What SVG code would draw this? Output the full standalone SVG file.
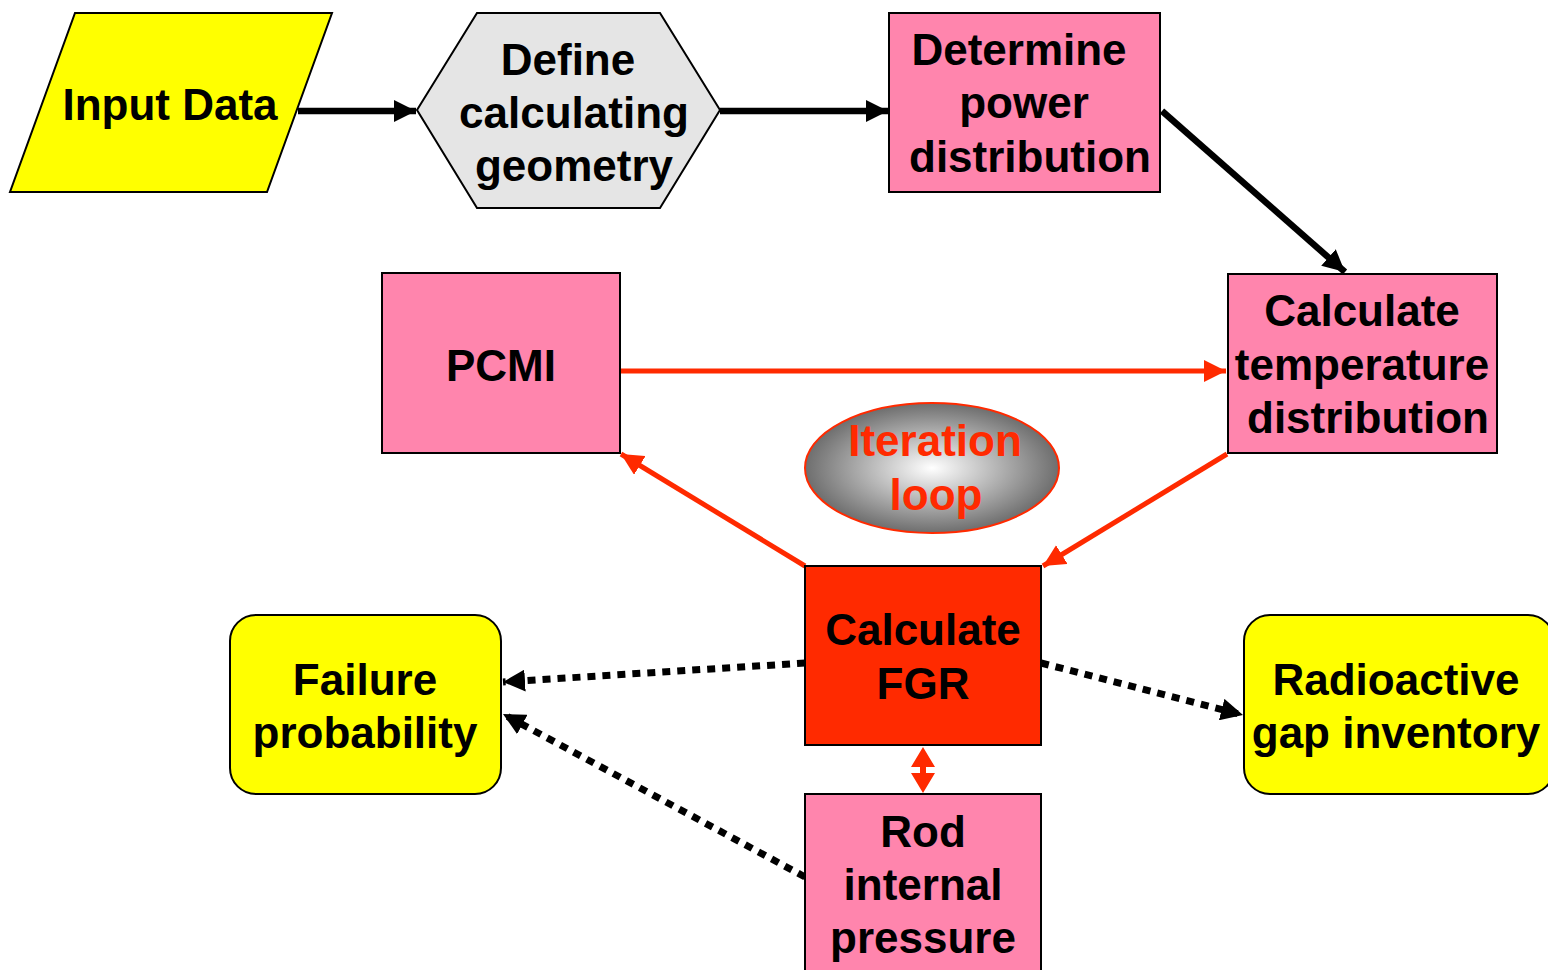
<svg xmlns="http://www.w3.org/2000/svg" width="1548" height="970" viewBox="0 0 1548 970">
<defs>
<style>
.t{font-family:"Liberation Sans",Arial,sans-serif;font-weight:bold;font-size:44px;text-anchor:middle;fill:#000}
.pink{fill:#FF85AD;stroke:#000;stroke-width:2}
.yel{fill:#FFFF00;stroke:#000;stroke-width:2}
.blk{stroke:#000;stroke-width:6.5;fill:none}
.red{stroke:#FF2A00;stroke-width:5;fill:none}
.dot{stroke:#000;stroke-width:7;fill:none;stroke-dasharray:8 7}
</style>
<marker id="ab" viewBox="0 0 10 10" refX="10" refY="5" markerWidth="22" markerHeight="22" markerUnits="userSpaceOnUse" orient="auto"><path d="M0,0 L10,5 L0,10 z" fill="#000"/></marker>
<marker id="ar" viewBox="0 0 10 10" refX="10" refY="5" markerWidth="22" markerHeight="22" markerUnits="userSpaceOnUse" orient="auto"><path d="M0,0 L10,5 L0,10 z" fill="#FF2A00"/></marker>
<marker id="ad" viewBox="0 0 10 10" refX="10" refY="5" markerWidth="22" markerHeight="22" markerUnits="userSpaceOnUse" orient="auto"><path d="M0,0 L10,5 L0,10 z" fill="#000"/></marker>
<radialGradient id="gr" cx="50%" cy="50%" r="50%">
<stop offset="0" stop-color="#FFFFFF"/>
<stop offset="1" stop-color="#6E6E6E"/>
</radialGradient>
</defs>
<g id="connectors">
<line class="blk" x1="298" y1="111" x2="416" y2="111" marker-end="url(#ab)"/>
<line class="blk" x1="720" y1="111" x2="888" y2="111" marker-end="url(#ab)"/>
<line class="blk" x1="1162" y1="111" x2="1345" y2="272" marker-end="url(#ab)"/>
<line class="red" x1="620" y1="371" x2="1226" y2="371" marker-end="url(#ar)"/>
<line class="red" x1="1227" y1="454" x2="1043" y2="566" marker-end="url(#ar)"/>
<line class="red" x1="805" y1="566" x2="621" y2="454" marker-end="url(#ar)"/>
<line class="dot" x1="805" y1="663" x2="503" y2="682" marker-end="url(#ad)"/>
<line class="dot" x1="805" y1="877" x2="503" y2="714" marker-end="url(#ad)"/>
<line class="dot" x1="1041" y1="663" x2="1243" y2="715" marker-end="url(#ad)"/>
<line stroke="#FF2A00" stroke-width="6" x1="923" y1="762" x2="923" y2="778"/>
<path d="M923,747 L911,767 L935,767 z M923,793 L911,773 L935,773 z" fill="#FF2A00"/>
</g>
<g id="input">
<polygon class="yel" points="75,13 332,13 267,192 10,192"/>
<text class="t" x="170" y="120">Input Data</text>
</g>
<g id="geometry">
<polygon points="417,110 477,13 660,13 720,110 660,208 477,208" fill="#E5E5E5" stroke="#000" stroke-width="2"/>
<text class="t" x="568" y="75">Define</text>
<text class="t" x="574" y="128">calculating</text>
<text class="t" x="574" y="181">geometry</text>
</g>
<g id="power">
<rect class="pink" x="889" y="13" width="271" height="179"/>
<text class="t" x="1019" y="65">Determine</text>
<text class="t" x="1024" y="118">power</text>
<text class="t" x="1030" y="172">distribution</text>
</g>
<g id="temperature">
<rect class="pink" x="1228" y="274" width="269" height="179" stroke-width="3"/>
<text class="t" x="1362" y="326">Calculate</text>
<text class="t" x="1362" y="380">temperature</text>
<text class="t" x="1368" y="433">distribution</text>
</g>
<g id="pcmi">
<rect class="pink" x="382" y="273" width="238" height="180"/>
<text class="t" x="501" y="381">PCMI</text>
</g>
<g id="iteration">
<ellipse cx="932" cy="468" rx="127" ry="65" fill="url(#gr)" stroke="#FF2A00" stroke-width="2"/>
<text class="t" x="935" y="456" style="fill:#FF2A00">Iteration</text>
<text class="t" x="936" y="510" style="fill:#FF2A00">loop</text>
</g>
<g id="fgr">
<rect x="805" y="566" width="236" height="179" fill="#FF2A00" stroke="#000" stroke-width="2"/>
<text class="t" x="923" y="645">Calculate</text>
<text class="t" x="923" y="699">FGR</text>
</g>
<g id="failure">
<rect class="yel" x="230" y="615" width="271" height="179" rx="26"/>
<text class="t" x="365" y="695">Failure</text>
<text class="t" x="365" y="748">probability</text>
</g>
<g id="radioactive">
<rect class="yel" x="1244" y="615" width="310" height="179" rx="26"/>
<text class="t" x="1396" y="695">Radioactive</text>
<text class="t" x="1396" y="748">gap inventory</text>
</g>
<g id="pressure">
<rect class="pink" x="805" y="794" width="236" height="190"/>
<text class="t" x="923" y="847">Rod</text>
<text class="t" x="923" y="900">internal</text>
<text class="t" x="923" y="953">pressure</text>
</g>
</svg>
